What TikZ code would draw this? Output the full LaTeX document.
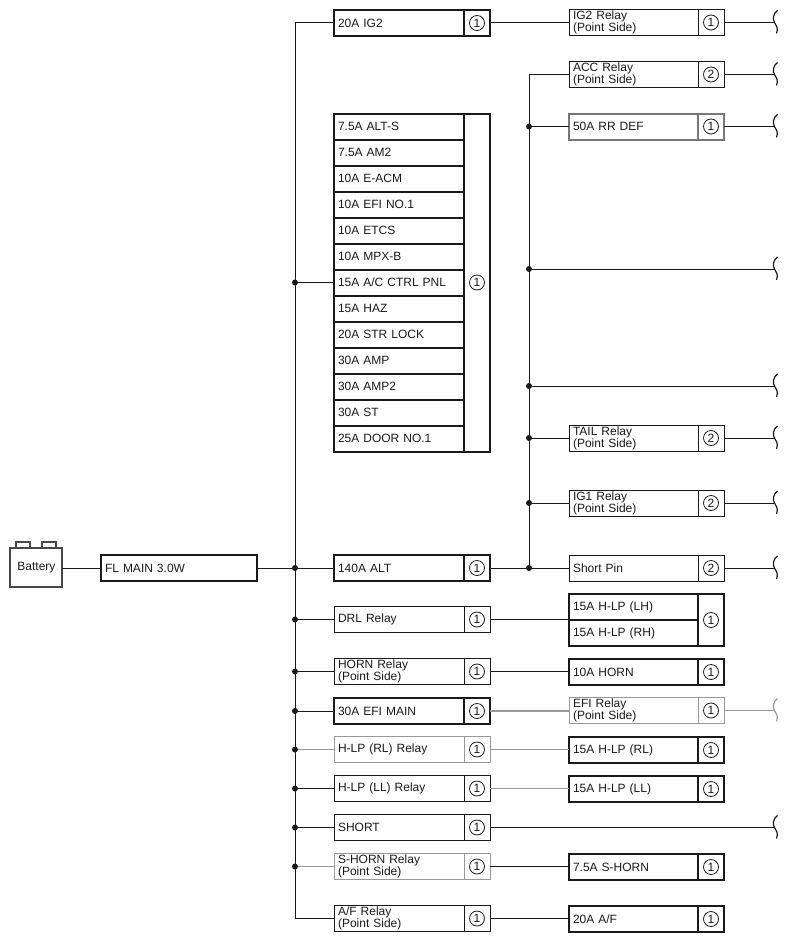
\documentclass[tikz,border=0pt]{standalone}
\usepackage{fontspec}
\setmainfont{Liberation Sans}
\definecolor{ink}{HTML}{1A1A1A}
\definecolor{midgrey}{HTML}{777777}
\definecolor{softgrey}{HTML}{999999}
\tikzset{
  cellbox/.style={draw=ink, line width=0.75pt, anchor=north west, outer sep=0pt, inner ysep=0pt, inner xsep=3pt,
    align=left, text=ink, font=\fontsize{9}{9}\selectfont},
  hvy/.style={line width=1.5pt},
  midg/.style={draw=midgrey, line width=1.5pt},
  softg/.style={draw=softgrey},
  wire/.style={draw=ink, line width=0.75pt},
  gwire/.style={draw=softgrey, line width=1pt},
  jdot/.style={circle, fill=ink, inner sep=0pt, minimum size=4.5pt, outer sep=0pt},
  pinmark/.style={circle, draw=ink, line width=0.6pt, inner sep=0pt, minimum size=11.25pt, text=ink, font=\fontsize{9}{9}\selectfont},
  batbox/.style={draw=ink!80, line width=1pt, anchor=north west, outer sep=0pt, inner sep=0pt, text=ink, font=\fontsize{9}{9}\selectfont},
}
% name, style, x, y, w, h, text
\newcommand{\cellnode}[7]{%
  \pgfmathsetlengthmacro{\cellw}{#5*0.75pt-6pt}%
  \pgfmathsetlengthmacro{\cellh}{#6*0.75pt}%
  \node[cellbox,#2,text width=\cellw,minimum height=\cellh] (#1) at (#3,#4) {#7};}
% name, style, x, y, w, h, digit
\newcommand{\pincell}[7]{%
  \pgfmathsetlengthmacro{\cellw}{#5*0.75pt}%
  \pgfmathsetlengthmacro{\cellh}{#6*0.75pt}%
  \node[cellbox,#2,inner xsep=0pt,minimum width=\cellw,minimum height=\cellh] (#1) at (#3,#4) {};
  \node[pinmark] (#1m) at (#1.center) {#7};}
% left pair: name, style, y, h, text, digit
\newcommand{\leftpair}[6]{%
  \cellnode{#1}{#2}{334}{#3}{130}{#4}{#5}%
  \pincell{#1p}{#2}{464}{#3}{26}{#4}{#6}}
\newcommand{\rightpair}[6]{%
  \cellnode{#1}{#2}{569}{#3}{129}{#4}{#5}%
  \pincell{#1p}{#2}{698}{#3}{26}{#4}{#6}}
% wave: name, y, colour
\newcommand{\wavemark}[3]{%
  \coordinate (#1) at (774.5,#2);
  \draw[#3,line width=0.9pt] (777.5,#2-12) .. controls (773,#2-9) and (772.5,#2-3) .. (#1)
     .. controls (776.5,#2+3) and (778.5,#2+6) .. (776.5,#2+11);}
% horizontal link from one node's anchor to the column of another
\newcommand{\hlink}[3]{\draw[#1] (#2) -- (#2 -| #3);}
\begin{document}
\begin{tikzpicture}[x=0.75pt,y=-0.75pt]
\useasboundingbox (0,0) rectangle (788,942);
% battery
\node[batbox,minimum width=39pt,minimum height=29.25pt] (bat) at (10,548) {\raisebox{-1.2pt}{\hspace{0.7pt}Battery}};
\node[batbox,minimum width=10.5pt,minimum height=4.5pt] (batl) at (16,542) {};
\node[batbox,minimum width=10.5pt,minimum height=4.5pt] (batr) at (42,542) {};
\cellnode{flmain}{hvy}{101}{555}{156}{26}{FL MAIN 3.0W}
% left column
\leftpair{ig}{hvy}{10}{26}{20A IG2}{1}
\foreach \nm/\rw/\tx in {a/0/{7.5A ALT-S},b/1/{7.5A AM2},c/2/{10A E-ACM},d/3/{10A EFI NO.1},e/4/{10A ETCS},f/5/{10A MPX-B},g/6/{15A A/C CTRL PNL},h/7/{15A HAZ},i/8/{20A STR LOCK},j/9/{30A AMP},k/10/{30A AMP2},l/11/{30A ST},m/12/{25A DOOR NO.1}}{
  \pgfmathsetmacro{\ry}{113.5+26*\rw}
  \cellnode{st\nm}{hvy}{334}{\ry}{130}{26}{\tx}
}
\pincell{stp}{hvy}{464}{113.5}{26}{338}{1}
\leftpair{alt}{hvy}{555}{26}{140A ALT}{1}
\leftpair{drl}{}{606.5}{26}{\raisebox{-1pt}{DRL Relay}}{1}
\leftpair{horn}{}{658.5}{26}{HORN Relay\\(Point Side)}{1}
\leftpair{efi}{hvy}{698}{26}{30A EFI MAIN}{1}
\leftpair{rl}{softg}{736.5}{26}{H-LP (RL) Relay}{1}
\leftpair{ll}{}{775.5}{26}{H-LP (LL) Relay}{1}
\leftpair{short}{}{814.5}{26}{SHORT}{1}
\leftpair{shorn}{softg}{853.5}{26}{S-HORN Relay\\(Point Side)}{1}
\leftpair{af}{}{905.5}{26}{A/F Relay\\(Point Side)}{1}
% right column
\rightpair{igr}{}{9.5}{26}{IG2 Relay\\(Point Side)}{1}
\rightpair{acc}{}{61.5}{26}{ACC Relay\\(Point Side)}{2}
\rightpair{def}{midg}{113.5}{26}{50A RR DEF}{1}
\rightpair{tail}{}{425}{26}{TAIL Relay\\(Point Side)}{2}
\rightpair{igo}{}{490}{26}{IG1 Relay\\(Point Side)}{2}
\rightpair{spin}{}{555}{26}{Short Pin}{2}
\cellnode{lh}{hvy}{569}{594}{129}{26}{15A H-LP (LH)}
\cellnode{rh}{hvy}{569}{620}{129}{26}{15A H-LP (RH)}
\pincell{lrp}{hvy}{698}{594}{26}{52}{1}
\rightpair{hrn}{hvy}{659}{26}{10A HORN}{1}
\rightpair{efr}{softg}{697.5}{26}{EFI Relay\\(Point Side)}{1}
\rightpair{frl}{hvy}{737}{26}{15A H-LP (RL)}{1}
\rightpair{fll}{hvy}{776}{26}{15A H-LP (LL)}{1}
\rightpair{fsh}{hvy}{854}{26}{7.5A S-HORN}{1}
\rightpair{faf}{hvy}{906}{26}{20A A/F}{1}
% main bus
\coordinate (bustop) at (295,23);
\coordinate (busbot) at (295,918.5);
\draw[wire] (ig.west -| bustop) -- (busbot -| bustop) -- (af.west);
\draw[wire] (ig.west) -- (ig.west -| bustop);
\foreach \nm/\tgt in {j1/stg,j2/alt,j3/drl,j4/horn,j5/efi,j7/ll,j8/short}{
  \node[jdot] (\nm) at (\tgt.west -| bustop) {};
  \draw[wire] (\nm) -- (\tgt.west);
}
\foreach \nm/\tgt in {j6/rl,j9/shorn}{
  \draw[gwire] (\tgt.west -| bustop) -- (\tgt.west);
  \node[jdot] (\nm) at (\tgt.west -| bustop) {};
}
\draw[wire] (bat.east |- flmain.west) -- (flmain.west);
\draw[wire] (flmain.east) -- (j2);
% second bus
\coordinate (bbtop) at (529,74.5);
\node[jdot] (k1) at (529,126.5) {};
\node[jdot] (k2) at (529,269) {};
\node[jdot] (k3) at (529,386) {};
\node[jdot] (k4) at (529,438) {};
\node[jdot] (k5) at (529,503) {};
\node[jdot] (k6) at (529,568) {};
\draw[wire] (acc.west) -- (bbtop) -- (k6);
\draw[wire] (k1) -- (def.west);
\draw[wire] (k4) -- (tail.west);
\draw[wire] (k5) -- (igo.west);
\draw[wire] (altp.east) -- (k6);
\draw[wire] (k6) -- (spin.west);
% horizontal links
\hlink{wire}{igp.east}{igr.west}
\hlink{wire}{drlp.east}{lh.west}
\hlink{wire}{hornp.east}{hrn.west}
\hlink{gwire}{efip.east}{efr.west}
\hlink{gwire}{rlp.east}{frl.west}
\hlink{gwire}{llp.east}{fll.west}
\hlink{wire}{shornp.east}{fsh.west}
\hlink{wire}{afp.east}{faf.west}
% waves
\wavemark{w1}{22.5}{ink}
\wavemark{w2}{74.5}{ink}
\wavemark{w3}{126.5}{ink}
\wavemark{w4}{269}{ink}
\wavemark{w5}{386}{ink}
\wavemark{w6}{438}{ink}
\wavemark{w7}{503}{ink}
\wavemark{w8}{568}{ink}
\wavemark{w9}{710.5}{softgrey}
\wavemark{w10}{827.5}{ink}
\draw[wire] (igrp.east) -- (w1);
\draw[wire] (accp.east) -- (w2);
\draw[wire] (defp.east) -- (w3);
\draw[wire] (k2) -- (w4);
\draw[wire] (k3) -- (w5);
\draw[wire] (tailp.east) -- (w6);
\draw[wire] (igop.east) -- (w7);
\draw[wire] (spinp.east) -- (w8);
\draw[gwire] (efrp.east) -- (w9);
\draw[wire] (shortp.east) -- (w10);
\end{tikzpicture}
\end{document}
